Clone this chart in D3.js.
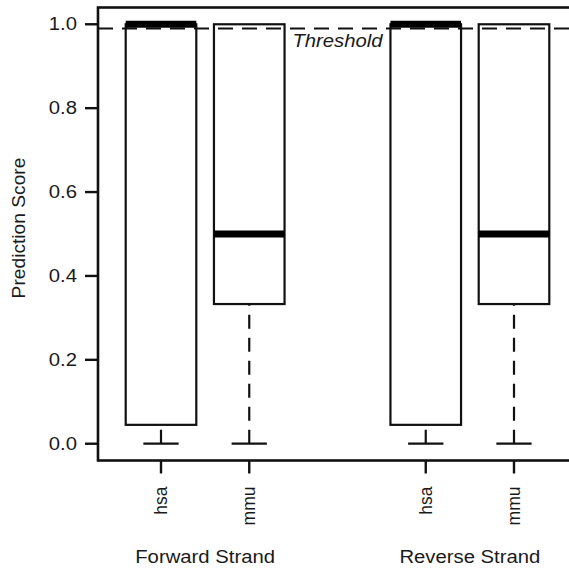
<!DOCTYPE html>
<html>
<head>
<meta charset="utf-8">
<script src="https://cdn.jsdelivr.net/npm/d3@7"></script>
<style>
  body { margin: 0; background: #fff; }
  text { font-family: "Liberation Sans", Arial, sans-serif; fill: #1a1a1a; }
</style>
</head>
<body>
<div id="chart"></div>
<script>
// Data
const groups = ['Forward Strand', 'Reverse Strand'];
const species = ['hsa', 'mmu', 'hsa', 'mmu'];
const positions = [1, 2, 4, 5];
const groupOf = [0, 0, 1, 1];
const whiskerLow = [0, 0, 0, 0];
const q1 = [0.045, 0.333, 0.045, 0.333];
const median = [1.0, 0.5, 1.0, 0.5];
const q3 = [1.0, 1.0, 1.0, 1.0];
const whiskerHigh = [1.0, 1.0, 1.0, 1.0];
const threshold = 0.99;
const yTicks = [0, 0.2, 0.4, 0.6, 0.8, 1.0];

class BoxPlot {
  constructor(_config) {
    this.config = {
      parentElement: _config.parentElement,
      containerWidth: 569,
      containerHeight: 571,
      boxWex: 0.8,
      stapleWex: 0.4,
      textStretch: 1.16,
      fontSize: 17.5,
      labelSize: 19.2,
    };
    this.initVis();
  }

  initVis() {
    let vis = this;
    const c = vis.config;

    vis.svg = d3
      .select(c.parentElement)
      .append('svg')
      .attr('width', c.containerWidth)
      .attr('height', c.containerHeight);

    vis.x = d3.scaleLinear().domain([1, 5]).range([161, 514]);
    vis.y = d3.scaleLinear().domain([-0.04, 1.04]).range([460.5, 7.5]);

    vis.boxes = species.map((s, i) => ({
      name: s,
      pos: positions[i],
      group: groupOf[i],
      lo: whiskerLow[i],
      q1: q1[i],
      med: median[i],
      q3: q3[i],
      hi: whiskerHigh[i],
    }));

    vis.renderVis();
  }

  renderVis() {
    let vis = this;
    const c = vis.config;
    const x = vis.x, y = vis.y;
    const halfBox = (x(1 + c.boxWex / 2) - x(1));
    const halfCap = (x(1 + c.stapleWex / 2) - x(1));
    const frameLeft = x(0.286);
    const frameRight = x(5.714);

    const g = vis.svg.append('g');

    // whiskers (dashed) from lower whisker up to the box
    g.selectAll('.whisker')
      .data(vis.boxes)
      .join('line')
      .attr('class', 'whisker')
      .attr('x1', d => x(d.pos)).attr('x2', d => x(d.pos))
      .attr('y1', d => y(d.lo)).attr('y2', d => y(d.q1))
      .attr('stroke', '#111')
      .attr('stroke-width', 2.2)
      .attr('stroke-dasharray', '14,9');

    // staples
    g.selectAll('.staple')
      .data(vis.boxes)
      .join('line')
      .attr('class', 'staple')
      .attr('x1', d => x(d.pos) - halfCap).attr('x2', d => x(d.pos) + halfCap)
      .attr('y1', d => y(d.lo)).attr('y2', d => y(d.lo))
      .attr('stroke', '#111')
      .attr('stroke-width', 2.2);

    // threshold line
    g.append('line')
      .attr('x1', frameLeft).attr('x2', frameRight)
      .attr('y1', y(threshold)).attr('y2', y(threshold))
      .attr('stroke', '#111')
      .attr('stroke-width', 2)
      .attr('stroke-dasharray', '15,9');

    // boxes
    g.selectAll('.box')
      .data(vis.boxes)
      .join('rect')
      .attr('class', 'box')
      .attr('x', d => x(d.pos) - halfBox)
      .attr('width', 2 * halfBox)
      .attr('y', d => y(d.q3))
      .attr('height', d => y(d.q1) - y(d.q3))
      .attr('fill', 'none')
      .attr('stroke', '#111')
      .attr('stroke-width', 2.2);

    // medians
    g.selectAll('.median')
      .data(vis.boxes)
      .join('line')
      .attr('class', 'median')
      .attr('x1', d => x(d.pos) - halfBox).attr('x2', d => x(d.pos) + halfBox)
      .attr('y1', d => y(d.med)).attr('y2', d => y(d.med))
      .attr('stroke', '#000')
      .attr('stroke-width', 7);

    g.append('text')
      .attr('transform', `translate(${x(3)},${y(threshold) + 19}) scale(${c.textStretch},1)`)
      .attr('text-anchor', 'middle')
      .attr('font-style', 'italic')
      .attr('font-size', c.fontSize)
      .text('Threshold');

    // frame
    g.append('rect')
      .attr('x', frameLeft)
      .attr('y', y.range()[1])
      .attr('width', frameRight - frameLeft)
      .attr('height', y.range()[0] - y.range()[1])
      .attr('fill', 'none')
      .attr('stroke', '#111')
      .attr('stroke-width', 2.6);

    // y axis ticks + labels
    const yt = g.append('g').selectAll('g').data(yTicks).join('g');
    yt.append('line')
      .attr('x1', frameLeft - 13).attr('x2', frameLeft)
      .attr('y1', d => y(d)).attr('y2', d => y(d))
      .attr('stroke', '#111').attr('stroke-width', 2.4);
    yt.append('text')
      .attr('transform', d => `translate(${frameLeft - 21},${y(d)}) scale(${c.textStretch},1)`)
      .attr('text-anchor', 'end')
      .attr('dominant-baseline', 'central')
      .attr('font-size', c.fontSize)
      .text(d => d3.format('.1f')(d));

    // x axis ticks + rotated labels
    const xt = g.append('g').selectAll('g').data(vis.boxes).join('g');
    xt.append('line')
      .attr('x1', d => x(d.pos)).attr('x2', d => x(d.pos))
      .attr('y1', y.range()[0]).attr('y2', y.range()[0] + 13)
      .attr('stroke', '#111').attr('stroke-width', 2.4);
    xt.append('text')
      .attr('transform', d => `translate(${x(d.pos)},${y.range()[0] + 26}) rotate(-90)`)
      .attr('text-anchor', 'end')
      .attr('dominant-baseline', 'central')
      .attr('font-size', c.fontSize)
      .text(d => d.name);

    // group labels
    g.selectAll('.group-label')
      .data(groups)
      .join('text')
      .attr('class', 'group-label')
      .attr('transform', (d, i) => {
        const ps = vis.boxes.filter(b => b.group === i).map(b => b.pos);
        return `translate(${x(d3.mean(ps))},563) scale(${c.textStretch},1)`;
      })
      .attr('text-anchor', 'middle')
      .attr('font-size', c.fontSize)
      .text(d => d);

    // y axis title
    g.append('text')
      .attr('transform', `translate(18,228) rotate(-90)`)
      .attr('text-anchor', 'middle')
      .attr('dominant-baseline', 'central')
      .attr('font-size', c.labelSize)
      .text('Prediction Score');
  }
}

new BoxPlot({ parentElement: '#chart' });
</script>
</body>
</html>
